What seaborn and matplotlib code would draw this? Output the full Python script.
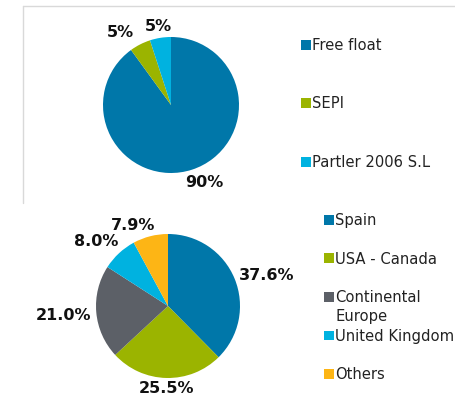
import numpy as np
import matplotlib
matplotlib.use("Agg")
import matplotlib.pyplot as plt
from matplotlib.lines import Line2D
import seaborn as sns

# ---- data ----
holders = ["Free float", "SEPI", "Partler 2006 S.L"]
holder_pct = [90, 5, 5]
holder_labels = ["90%", "5%", "5%"]

regions = ["Spain", "USA - Canada", "Continental Europe", "United Kingdom", "Others"]
region_pct = [37.6, 25.5, 21.0, 8.0, 7.9]
region_labels = ["37.6%", "25.5%", "21.0%", "8.0%", "7.9%"]

holder_colors = ["#0077A9", "#9BB400", "#00B2E0"]
region_colors = ["#0077A9", "#9BB400", "#5C6067", "#00B2E0", "#FDB515"]

sns.set_theme(style="white")
plt.rcParams['font.family'] = ['DejaVu Sans']

W, H = 456, 403
fig = plt.figure(figsize=(W / 100, H / 100), dpi=100)

def px_axes(cx, cy, r):
    return fig.add_axes([(cx - r) / W, (H - cy - r) / H, 2 * r / W, 2 * r / H])

def draw_pie(ax, vals, colors, labels, dists, offs):
    wedges, _ = ax.pie(vals, colors=colors, startangle=90, counterclock=False,
                       wedgeprops=dict(linewidth=0))
    ax.set_xlim(-1, 1)
    ax.set_ylim(-1, 1)
    ax.set_aspect("equal")
    ax.axis("off")
    for w, lab, d, o in zip(wedges, labels, dists, offs):
        ang = np.deg2rad((w.theta1 + w.theta2) / 2 + o)
        ax.text(d * np.cos(ang), d * np.sin(ang), lab, ha="center", va="center",
                fontsize=11.5, fontweight="bold", color="#111111", clip_on=False)
    return wedges

# border of top panel (top and left lines)
fig.add_artist(Line2D([23 / W, 1.0], [1 - 6 / H, 1 - 6 / H], transform=fig.transFigure,
                      color="#D9D9D9", lw=1))
fig.add_artist(Line2D([23 / W, 23 / W], [1 - 6 / H, 1 - 203 / H], transform=fig.transFigure,
                      color="#D9D9D9", lw=1))

leg_kw = dict(bbox_transform=fig.transFigure, frameon=False, fontsize=10.6,
              handlelength=0.65, handleheight=0.65, handletextpad=0.12,
              borderpad=0, borderaxespad=0, labelcolor="#222222", loc="upper left")

# top pie
ax1 = px_axes(171, 105, 68)
w1 = draw_pie(ax1, holder_pct, holder_colors, holder_labels,
              [1.24, 1.30, 1.17], [5, 8, 0])
leg1 = ax1.legend(w1, holders, bbox_to_anchor=(301 / W, 1 - 38 / H),
                  labelspacing=2.95, **leg_kw)

# bottom pie
ax2 = px_axes(168, 306, 72)
w2 = draw_pie(ax2, region_pct, region_colors, region_labels,
              [1.43, 1.15, 1.46, 1.34, 1.22], [-5, 0, 0, 5, 9])
disp = ["Spain", "USA - Canada", "Continental", "United Kingdom", "Others"]
leg2 = ax2.legend(w2, disp, bbox_to_anchor=(324 / W, 1 - 213 / H),
                  labelspacing=1.6, **leg_kw)
t = leg2.get_texts()[2]
ax2.annotate("Europe", xy=(0, 0), xycoords=t, xytext=(0, -3), textcoords="offset points",
             ha="left", va="top", fontsize=10.6, color="#222222",
             annotation_clip=False, zorder=10)

fig.savefig("out.png", dpi=100)
